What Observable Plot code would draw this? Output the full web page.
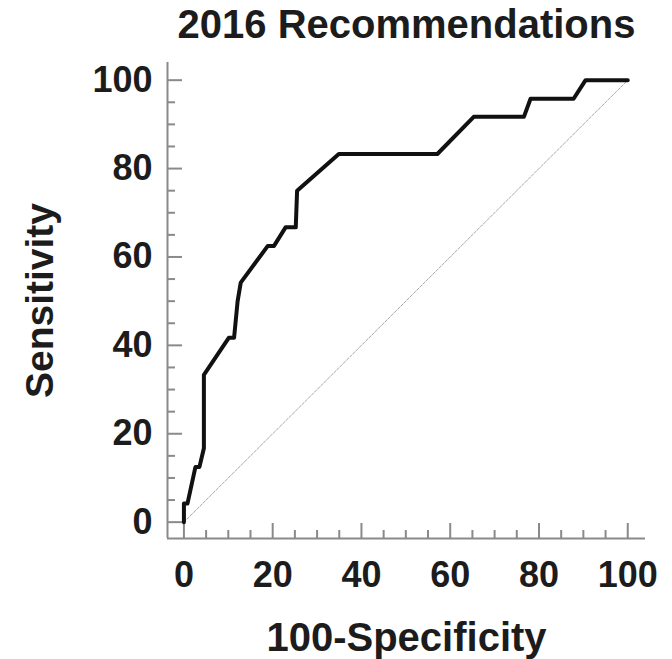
<!DOCTYPE html>
<html>
<head>
<meta charset="utf-8">
<script src="https://cdn.jsdelivr.net/npm/d3@7"></script>
<script src="https://cdn.jsdelivr.net/npm/@observablehq/plot@0.6"></script>
<style>
  html, body { margin: 0; padding: 0; background: #fff; }
  svg { display: block; }
</style>
</head>
<body>
<div id="chart"></div>
<script>
// ---- Data ----
const title = "2016 Recommendations";
const xLabel = "100-Specificity";
const yLabel = "Sensitivity";
const fpr = [0, 0, 0.8, 2.6, 3.5, 4.5, 4.5, 10.1, 11.3, 12.1, 12.8, 18.9, 20.3, 22.9, 25.2, 25.5, 34.9, 57.1, 65.3, 76.6, 78.1, 87.8, 90.5, 100];
const tpr = [0, 4.2, 4.2, 12.5, 12.5, 16.7, 33.3, 41.7, 41.7, 50.0, 54.2, 62.5, 62.5, 66.7, 66.7, 75.0, 83.3, 83.3, 91.7, 91.7, 95.8, 95.8, 100, 100];
const diagX = [0, 100];
const diagY = [0, 100];
const majorTicks = [0, 20, 40, 60, 80, 100];
const minorTicks = [5, 10, 15, 25, 30, 35, 45, 50, 55, 65, 70, 75, 85, 90, 95];
const xDomain = [-3.7, 104];
const yDomain = [-3.7, 104];

// ---- Layout ----
const W = 672, H = 659;
const mt = 62, mb = 121, ml = 167, mr = 27;
const plotW = W - ml - mr, plotH = H - mt - mb;
const font = "'Liberation Sans', Arial, Helvetica, sans-serif";
const axisColor = "#8a8a8a";
const textColor = "#1c1c1c";

const curve = fpr.map((x, i) => ({x, y: tpr[i]}));
const diag = diagX.map((x, i) => ({x, y: diagY[i]}));

const chart = Plot.plot({
  width: W,
  height: H,
  marginTop: mt,
  marginBottom: mb,
  marginLeft: ml,
  marginRight: mr,
  style: {fontFamily: font, background: "#fff", overflow: "visible"},
  x: {domain: xDomain, axis: null},
  y: {domain: yDomain, axis: null},
  marks: [
    // diagonal reference line
    Plot.line(diag, {x: "x", y: "y", stroke: "#a8a8a8", strokeWidth: 1, strokeDasharray: "3,1.5"}),
    // axis lines
    Plot.ruleX([xDomain[0]], {stroke: axisColor, strokeWidth: 2}),
    Plot.ruleY([yDomain[0]], {stroke: axisColor, strokeWidth: 2}),
    // inward ticks
    Plot.tickX(majorTicks, {x: d => d, insetTop: plotH - 15, stroke: axisColor, strokeWidth: 2}),
    Plot.tickX(minorTicks, {x: d => d, insetTop: plotH - 8, stroke: axisColor, strokeWidth: 2}),
    Plot.tickY(majorTicks, {y: d => d, insetRight: plotW - 15, stroke: axisColor, strokeWidth: 2}),
    Plot.tickY(minorTicks, {y: d => d, insetRight: plotW - 8, stroke: axisColor, strokeWidth: 2}),
    // tick labels
    Plot.axisX(majorTicks, {anchor: "bottom", tickSize: 0, tickPadding: 23, fontSize: 36, fontWeight: "bold", fill: textColor, label: null}),
    Plot.axisY(majorTicks, {anchor: "left", tickSize: 0, tickPadding: 15, fontSize: 36, fontWeight: "bold", fill: textColor, label: null}),
    // ROC curve
    Plot.line(curve, {x: "x", y: "y", stroke: "#111", strokeWidth: 4, strokeLinejoin: "round", strokeLinecap: "round"}),
    // titles
    Plot.text([title], {frameAnchor: "top", textAnchor: "middle", lineAnchor: "middle", dy: -37, fontSize: 40, fontWeight: "bold", fill: textColor}),
    Plot.text([xLabel], {frameAnchor: "bottom", textAnchor: "middle", lineAnchor: "middle", dy: 100, fontSize: 40, fontWeight: "bold", fill: textColor}),
    Plot.text([yLabel], {frameAnchor: "left", textAnchor: "middle", lineAnchor: "middle", rotate: -90, dx: -127, fontSize: 39, fontWeight: "bold", fill: textColor})
  ]
});
document.getElementById("chart").appendChild(chart);
</script>
</body>
</html>
